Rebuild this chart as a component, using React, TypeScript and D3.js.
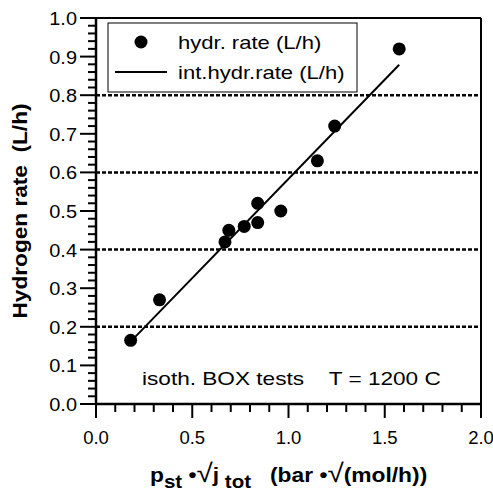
import React from "react";
import * as d3 from "d3";

const xValues = [0.18, 0.33, 0.67, 0.69, 0.77, 0.84, 0.84, 0.96, 1.15, 1.24, 1.575];
const yValues = [0.165, 0.27, 0.42, 0.45, 0.46, 0.52, 0.47, 0.5, 0.63, 0.72, 0.92];
const fitX = [0.2, 1.575];
const fitY = [0.172, 0.879];
const xTicks = [0, 0.5, 1.0, 1.5, 2.0];
const yTicks = [0, 0.1, 0.2, 0.3, 0.4, 0.5, 0.6, 0.7, 0.8, 0.9, 1.0];
const gridValues = [0.2, 0.4, 0.6, 0.8];
const legendLabels = ["hydr. rate (L/h)", "int.hydr.rate (L/h)"];
const annotation = "isoth. BOX tests    T = 1200 C";
const yTitle = "Hydrogen rate  (L/h)";

const W = 493, H = 492;
const FONT = "'Liberation Sans', Arial, sans-serif";

function SText({ x, y, sx = 1, children, anchor = "start", size = 19, weight = "normal" }: any) {
  return (
    <text
      transform={`translate(${x},${y}) scale(${sx},1)`}
      textAnchor={anchor}
      fontFamily={FONT}
      fontSize={size}
      fontWeight={weight}
      style={{ whiteSpace: "pre" }}
    >
      {children}
    </text>
  );
}

export default function App() {
  const x = d3.scaleLinear().domain([0, 2]).range([96, 481]);
  const y = d3.scaleLinear().domain([0, 1]).range([404, 18]);
  const xMinor = d3.range(0, 2.0001, 0.1);
  const yMinor = d3.range(0, 1.0001, 0.02);
  const line = d3.line<number>().x((d, i) => x(fitX[i])).y((d, i) => y(fitY[i]));
  return (
    <svg width={W} height={H} style={{ position: "absolute", left: 0, top: 0, background: "#fff" }}>
      <rect width={W} height={H} fill="#fff" />
      {gridValues.map((g) => (
        <line key={g} x1={x(0)} x2={x(2)} y1={y(g)} y2={y(g)} stroke="#000" strokeWidth={2.5} strokeDasharray="4 2" />
      ))}
      {/* frame */}
      <line x1={x(0)} x2={x(2)} y1={y(1)} y2={y(1)} stroke="#000" strokeWidth={2} />
      <line x1={x(2)} x2={x(2)} y1={y(1)} y2={y(0)} stroke="#000" strokeWidth={2} />
      <line x1={x(0)} x2={x(0)} y1={y(1) - 1} y2={y(0) + 1} stroke="#000" strokeWidth={2.5} />
      <line x1={x(0) - 1} x2={x(2) + 1} y1={y(0)} y2={y(0)} stroke="#000" strokeWidth={2.5} />
      {/* y ticks */}
      {yMinor.map((v, i) => (
        <line key={"ym" + i} x1={x(0) - (i % 5 === 0 ? 16 : 8)} x2={x(0)} y1={y(v)} y2={y(v)} stroke="#000" strokeWidth={2} />
      ))}
      {yTicks.map((v) => (
        <SText key={"yl" + v} x={77} y={y(v) + 7} anchor="end" size={19} sx={1.05}>
          {d3.format(".1f")(v)}
        </SText>
      ))}
      {/* x ticks */}
      {xMinor.map((v, i) => (
        <line key={"xm" + i} x1={x(v)} x2={x(v)} y1={y(0)} y2={y(0) + (i % 5 === 0 ? 14 : 8)} stroke="#000" strokeWidth={2} />
      ))}
      {xTicks.map((v) => (
        <SText key={"xl" + v} x={x(v)} y={444} anchor="middle" size={18.5} sx={1}>
          {d3.format(".1f")(v)}
        </SText>
      ))}
      {/* fit line */}
      <path d={line(fitX) || ""} fill="none" stroke="#000" strokeWidth={2} />
      {/* points */}
      {xValues.map((v, i) => (
        <circle key={"p" + i} cx={x(v)} cy={y(yValues[i])} r={6.5} fill="#000" />
      ))}
      {/* legend */}
      <rect x={108} y={23} width={249} height={69} fill="#fff" stroke="#000" strokeWidth={1} />
      <circle cx={141} cy={42} r={6.5} fill="#000" />
      <line x1={115} x2={167} y1={72} y2={72} stroke="#000" strokeWidth={2} />
      <SText x={178} y={49} size={19} sx={1.16}>{legendLabels[0]}</SText>
      <SText x={178} y={79} size={19} sx={1.16}>{legendLabels[1]}</SText>
      {/* annotation */}
      <SText x={142} y={385} size={19} sx={1.19}>{annotation}</SText>
      {/* y title */}
      <text
        transform={`translate(27, ${(y(0) + y(1)) / 2}) rotate(-90)`}
        textAnchor="middle"
        fontFamily={FONT}
        fontSize={20}
        fontWeight="bold"
        textLength={215}
        lengthAdjust="spacingAndGlyphs"
        style={{ whiteSpace: "pre" }}
      >
        {yTitle}
      </text>
      {/* x title */}
      <text
        transform="translate(150,482) scale(1.14,1)"
        fontFamily={FONT}
        fontSize={20}
        fontWeight="bold"
        style={{ whiteSpace: "pre" }}
      >
        <tspan>p</tspan>
        <tspan fontSize={18} dy={6}>st</tspan>
        <tspan dy={-6}>{" \u2022"}</tspan>
        <tspan fontSize={26} fontWeight="normal">{"\u221A"}</tspan>
        <tspan>j</tspan>
        <tspan fontSize={18} dy={6}>{" tot"}</tspan>
        <tspan dy={-6}>{"   (bar \u2022"}</tspan>
        <tspan fontSize={26} fontWeight="normal">{"\u221A"}</tspan>
        <tspan>{"(mol/h))"}</tspan>
      </text>
    </svg>
  );
}
